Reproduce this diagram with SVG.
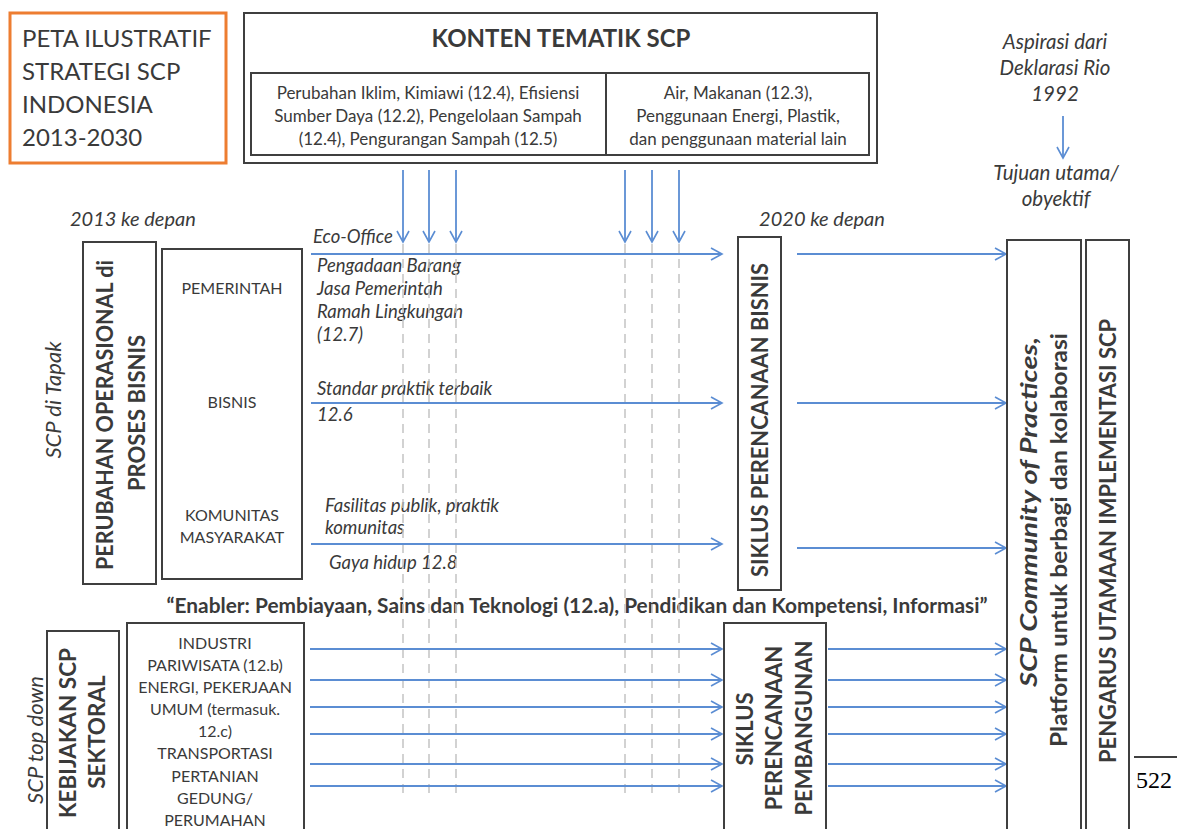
<svg xmlns="http://www.w3.org/2000/svg" width="1182" height="829" viewBox="0 0 1182 829">
<defs>
<marker id="ah" markerWidth="14" markerHeight="14" refX="12" refY="7" orient="auto" markerUnits="userSpaceOnUse">
<path d="M1,1 L12,7 L1,13" fill="none" stroke="#5B8DD3" stroke-width="1.6"/>
</marker>
<style>
text{font-family:Lato,"Open Sans","Liberation Sans",sans-serif;fill:#3a3a3a}
.box{fill:#fff;stroke:#3f3f3f;stroke-width:2}
.arr{stroke:#5B8DD3;stroke-width:1.8;fill:none;marker-end:url(#ah)}
.dash{stroke:#c4c4c4;stroke-width:1.5;stroke-dasharray:9 6;fill:none}
.it{font-style:italic}
.b{font-weight:bold}
.c{text-anchor:middle}
</style>
</defs>
<rect width="1182" height="829" fill="#fff"/>

<g id="title">
<rect x="10" y="13" width="216" height="150" fill="#fff" stroke="#ED7D31" stroke-width="3"/>
<text x="22" y="47" font-size="24">PETA ILUSTRATIF</text>
<text x="22" y="80" font-size="24">STRATEGI SCP</text>
<text x="22" y="113" font-size="24">INDONESIA</text>
<text x="22" y="146" font-size="24">2013-2030</text>
</g>

<g id="konten">
<rect class="box" x="244" y="13" width="633" height="150"/>
<text class="c b" x="561" y="47" font-size="24">KONTEN TEMATIK SCP</text>
<rect class="box" x="251" y="73" width="618" height="82"/>
<line x1="606" y1="73" x2="606" y2="155" stroke="#3f3f3f" stroke-width="2"/>
<g font-size="17">
<text class="c" x="428" y="99">Perubahan Iklim, Kimiawi (12.4), Efisiensi</text>
<text class="c" x="428" y="122">Sumber Daya (12.2), Pengelolaan Sampah</text>
<text class="c" x="428" y="145">(12.4), Pengurangan Sampah (12.5)</text>
<text class="c" x="738" y="99">Air, Makanan (12.3),</text>
<text class="c" x="738" y="122">Penggunaan Energi, Plastik,</text>
<text class="c" x="738" y="145">dan penggunaan material lain</text>
</g>
</g>

<g id="aspirasi">
<text class="c it" x="1055" y="49" font-size="20.5">Aspirasi dari</text>
<text class="c it" x="1055" y="75" font-size="20.5">Deklarasi Rio</text>
<text class="c it" x="1055" y="101" font-size="20.5">1992</text>
<text class="c it" x="1056" y="180" font-size="20.5">Tujuan utama/</text>
<text class="c it" x="1056" y="206" font-size="20.5">obyektif</text>
</g>

<g id="labels">
<text class="it" x="70" y="226" font-size="20">2013 ke depan</text>
<text class="c it" x="822" y="226" font-size="20">2020 ke depan</text>
<text class="c it" transform="translate(61,400) rotate(-90)" font-size="22">SCP di Tapak</text>
<text class="c it" transform="translate(43,740) rotate(-90)" font-size="22">SCP top down</text>
<g font-size="18.5">
<text class="it" x="313" y="243">Eco-Office</text>
<text class="it" x="317" y="272">Pengadaan Barang</text>
<text class="it" x="317" y="295">Jasa Pemerintah</text>
<text class="it" x="317" y="318">Ramah Lingkungan</text>
<text class="it" x="317" y="341">(12.7)</text>
<text class="it" x="317" y="395">Standar praktik terbaik</text>
<text class="it" x="317" y="421">12.6</text>
<text class="it" x="325" y="512">Fasilitas publik, praktik</text>
<text class="it" x="325" y="534">komunitas</text>
<text class="it" x="329" y="569">Gaya hidup 12.8</text>
</g>
<text class="c b" x="577" y="613" font-size="20.5" textLength="821" lengthAdjust="spacingAndGlyphs">“Enabler: Pembiayaan, Sains dan Teknologi (12.a), Pendidikan dan Kompetensi, Informasi”</text>
</g>

<g id="connectors">
<path class="dash" d="M403,244V797M429,244V797M456,244V797M625,244V797M652,244V797M679,244V797"/>
<line class="arr" x1="403" y1="170" x2="403" y2="242"/>
<line class="arr" x1="429" y1="170" x2="429" y2="242"/>
<line class="arr" x1="456" y1="170" x2="456" y2="242"/>
<line class="arr" x1="625" y1="170" x2="625" y2="242"/>
<line class="arr" x1="652" y1="170" x2="652" y2="242"/>
<line class="arr" x1="679" y1="170" x2="679" y2="242"/>
<line class="arr" x1="1063" y1="116" x2="1063" y2="158"/>
<line class="arr" x1="311" y1="254" x2="722" y2="254"/>
<line class="arr" x1="311" y1="403" x2="722" y2="403"/>
<line class="arr" x1="311" y1="544" x2="722" y2="544"/>
<line class="arr" x1="797" y1="254" x2="1006" y2="254"/>
<line class="arr" x1="797" y1="403" x2="1006" y2="403"/>
<line class="arr" x1="797" y1="548" x2="1006" y2="548"/>
<line class="arr" x1="310" y1="649" x2="722" y2="649"/>
<line class="arr" x1="310" y1="680" x2="722" y2="680"/>
<line class="arr" x1="310" y1="707" x2="722" y2="707"/>
<line class="arr" x1="310" y1="734" x2="722" y2="734"/>
<line class="arr" x1="310" y1="764" x2="722" y2="764"/>
<line class="arr" x1="310" y1="786" x2="722" y2="786"/>
<line class="arr" x1="828" y1="649" x2="1006" y2="649"/>
<line class="arr" x1="828" y1="680" x2="1006" y2="680"/>
<line class="arr" x1="828" y1="707" x2="1006" y2="707"/>
<line class="arr" x1="828" y1="734" x2="1006" y2="734"/>
<line class="arr" x1="828" y1="764" x2="1006" y2="764"/>
<line class="arr" x1="828" y1="786" x2="1006" y2="786"/>
</g>

<g id="perubahan">
<rect class="box" x="83" y="242" width="73" height="342"/>
<text class="c b" transform="translate(113,415) rotate(-90)" font-size="22" textLength="310" lengthAdjust="spacingAndGlyphs">PERUBAHAN OPERASIONAL di</text>
<text class="c b" transform="translate(145,413) rotate(-90)" font-size="22">PROSES BISNIS</text>
</g>

<g id="aktor">
<rect class="box" x="162" y="249" width="140" height="330"/>
<text class="c" x="232" y="294" font-size="16">PEMERINTAH</text>
<text class="c" x="232" y="408" font-size="16">BISNIS</text>
<text class="c" x="232" y="521" font-size="16">KOMUNITAS</text>
<text class="c" x="232" y="543" font-size="16">MASYARAKAT</text>
</g>

<g id="siklus-bisnis">
<rect class="box" x="738" y="237" width="43" height="353"/>
<text class="c b" transform="translate(768,420) rotate(-90)" font-size="22" textLength="314" lengthAdjust="spacingAndGlyphs">SIKLUS PERENCANAAN BISNIS</text>
</g>

<g id="kebijakan">
<rect class="box" x="47" y="631" width="72" height="210"/>
<text class="c b" transform="translate(76,733) rotate(-90)" font-size="22.5">KEBIJAKAN SCP</text>
<text class="c b" transform="translate(105,732) rotate(-90)" font-size="22.5">SEKTORAL</text>
</g>

<g id="sektor">
<rect class="box" x="127" y="623" width="177" height="220"/>
<g font-size="16">
<text class="c" x="215" y="649">INDUSTRI</text>
<text class="c" x="215" y="671">PARIWISATA (12.b)</text>
<text class="c" x="215" y="693">ENERGI, PEKERJAAN</text>
<text class="c" x="215" y="715">UMUM (termasuk.</text>
<text class="c" x="215" y="737">12.c)</text>
<text class="c" x="215" y="759">TRANSPORTASI</text>
<text class="c" x="215" y="782">PERTANIAN</text>
<text class="c" x="215" y="804">GEDUNG/</text>
<text class="c" x="215" y="826">PERUMAHAN</text>
</g>
</g>

<g id="siklus-pembangunan">
<rect class="box" x="724" y="623" width="102" height="220"/>
<text class="c b" transform="translate(753,729) rotate(-90)" font-size="22">SIKLUS</text>
<text class="c b" transform="translate(782,728) rotate(-90)" font-size="22">PERENCANAAN</text>
<text class="c b" transform="translate(812,728) rotate(-90)" font-size="22">PEMBANGUNAN</text>
</g>

<g id="community">
<rect class="box" x="1007" y="240" width="74" height="600"/>
<text class="c b it" transform="translate(1037,512) rotate(-90)" font-size="23" textLength="350" lengthAdjust="spacingAndGlyphs">SCP Community of Practices,</text>
<text class="c b" transform="translate(1067,540) rotate(-90)" font-size="22.5" textLength="414" lengthAdjust="spacingAndGlyphs">Platform untuk  berbagi dan kolaborasi</text>
</g>

<g id="pengarus">
<rect class="box" x="1086" y="240" width="43" height="600"/>
<text class="c b" transform="translate(1116,541) rotate(-90)" font-size="22" textLength="444" lengthAdjust="spacingAndGlyphs">PENGARUS UTAMAAN IMPLEMENTASI SCP</text>
</g>

<g id="page">
<line x1="1134" y1="757" x2="1177" y2="757" stroke="#000" stroke-width="1.3"/>
<text x="1136" y="788" font-size="24" style="font-family:'Liberation Serif',serif;fill:#000">522</text>
</g>
</svg>
